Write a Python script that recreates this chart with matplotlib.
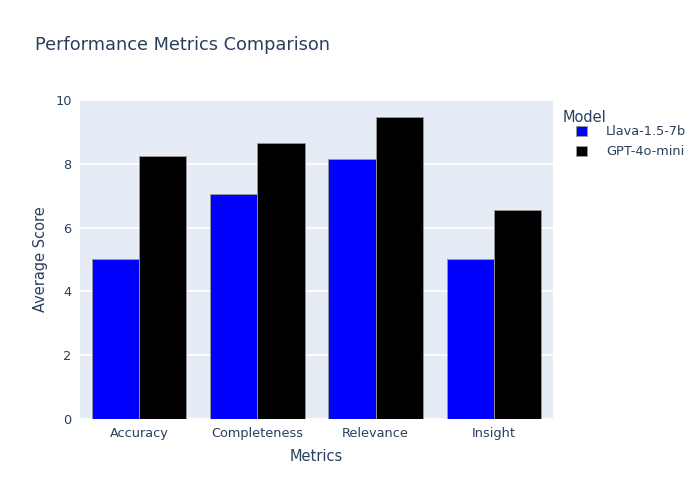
import numpy as np
import matplotlib.pyplot as plt

metrics = ["Accuracy", "Completeness", "Relevance", "Insight"]
models = ["Llava-1.5-7b", "GPT-4o-mini"]
llava_scores = [5.03, 7.05, 8.15, 5.03]
gpt_scores = [8.23, 8.65, 9.48, 6.56]
colors = ["blue", "black"]

txt = "#2a3f5f"
fig = plt.figure(figsize=(7, 5), dpi=100)
ax = fig.add_axes([80/700, 1-419/500, (553-80)/700, (419-100)/500])
ax.set_facecolor("#E5ECF6")

x = np.arange(len(metrics))
w = 0.4
for i, (vals, name) in enumerate(zip([llava_scores, gpt_scores], models)):
    ax.bar(x + (i - 0.5) * w, vals, w, color=colors[i], label=name,
           edgecolor="#9a9a9a", linewidth=0.6, zorder=3)

ax.set_xlim(-0.5, 3.5)
ax.set_ylim(0, 10)
ax.set_yticks([0, 2, 4, 6, 8, 10])
ax.set_xticks(x)
ax.set_xticklabels(metrics)
ax.grid(axis="y", color="white", linewidth=1.3, zorder=0)
ax.set_axisbelow(True)
for s in ax.spines.values():
    s.set_visible(False)
ax.tick_params(length=0, labelsize=9.3, colors=txt, pad=6)
ax.set_xlabel("Metrics", fontsize=10.5, color=txt, labelpad=6)
ax.set_ylabel("Average Score", fontsize=10.5, color=txt, labelpad=5)

fig.text(35/700, 1-45/500, "Performance Metrics Comparison", fontsize=12.8,
         color=txt, va="center")

# legend title placed separately so entries are indented as in the reference
fig.text(563/700, 1-117/500, "Model", fontsize=10.5, color=txt, va="center")
leg = fig.legend(loc="upper left", bbox_to_anchor=(566/700, 1-115/500),
                 frameon=False, fontsize=9.3,
                 handlelength=0.8, handleheight=0.8, handletextpad=1.5,
                 labelspacing=0.55, borderpad=0.3)
for t in leg.get_texts():
    t.set_color(txt)

fig.savefig("out.png")
